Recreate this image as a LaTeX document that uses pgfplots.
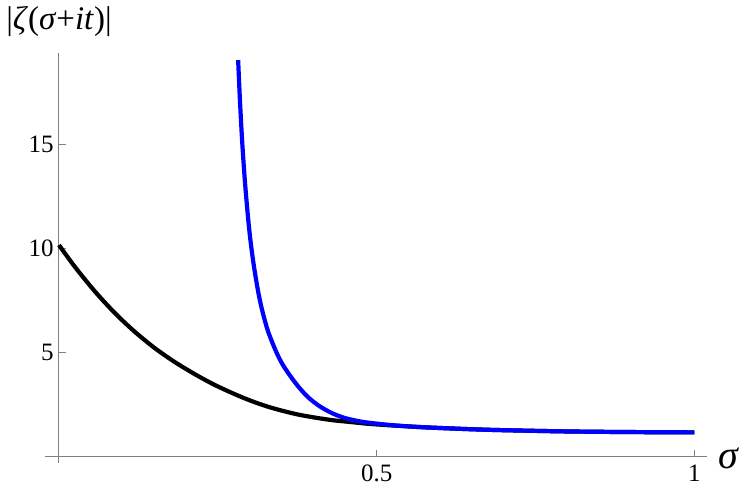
\documentclass[border=0pt]{standalone}
\usepackage{fontspec}
\setmainfont{Liberation Serif}
\usepackage{pgfplots}
\pgfplotsset{compat=1.18}

\definecolor{zblue}{RGB}{0,0,255}
\definecolor{axgray}{RGB}{128,128,128}

\begin{document}
\begin{tikzpicture}
\begin{axis}[
  scale only axis,
  width=331pt, height=205pt,
  axis lines=middle,
  axis line style={axgray, line width=0.5pt, -},
  every inner x axis line/.append style={-},
  every inner y axis line/.append style={-},
  xmin=-0.022, xmax=1.02,
  ymin=-0.31, ymax=19.37,
  xtick={0.5,1}, ytick={5,10,15},
  tick align=inside,
  major tick length=3.5pt,
  tick style={axgray, line width=0.5pt},
  /pgf/number format/assume math mode=true,
  tick label style={font=\fontsize{12.5}{14}\selectfont, text=black},
  xticklabel style={anchor=north, inner sep=0pt, yshift=-4pt},
  yticklabel style={anchor=east, inner sep=0pt, xshift=-2.5pt},
  every axis x label/.style={at={(axis cs:1.02,0)}, anchor=base west,
    inner sep=0pt, xshift=5.5pt, yshift=-5.75pt,
    font=\fontsize{20}{22}\selectfont},
  every axis y label/.style={at={(axis cs:0,19.37)}, anchor=south,
    inner sep=0pt, yshift=8pt, font=\fontsize{16.5}{18}\selectfont},
  xlabel={\itshape σ},
  ylabel={|\textit{ζ}(\textit{σ}+\textit{it})|},
  clip=false,
]

% black curve
\addplot[black, line width=2.1pt, smooth] coordinates {
  (0.000,10.15) (0.0252,9.10) (0.0567,7.92) (0.0882,6.88) (0.1196,5.98)
  (0.151,5.20) (0.1826,4.53) (0.214,3.95) (0.243,3.47) (0.274,3.03)
  (0.300,2.70) (0.327,2.41) (0.355,2.17) (0.379,2.00) (0.405,1.86)
  (0.432,1.74) (0.458,1.66) (0.484,1.58) (0.510,1.52) (0.537,1.47)
  (0.570,1.41) (0.600,1.37) (0.650,1.31) (0.700,1.265) (0.800,1.205)
  (0.900,1.175) (1.000,1.16)
};

% blue curve
\addplot[zblue, line width=2.1pt, smooth] coordinates {
  (0.282,19.03) (0.2850,17.0) (0.2886,15.0) (0.2932,13.0) (0.2991,11.0)
  (0.3051,9.5) (0.3130,8.0) (0.3200,7.0) (0.3292,6.0) (0.342,5.02)
  (0.352,4.42) (0.364,3.87) (0.377,3.35) (0.392,2.85) (0.410,2.42)
  (0.430,2.08) (0.450,1.85) (0.475,1.68) (0.500,1.58) (0.530,1.49)
  (0.560,1.43) (0.600,1.37) (0.650,1.31) (0.700,1.265) (0.800,1.205)
  (0.900,1.175) (1.000,1.16)
};

\end{axis}
% page margins as in the reference
\path ([xshift=-22.5pt,yshift=-14.5pt]current axis.south west)
  rectangle ([xshift=20pt,yshift=26.5pt]current axis.north east);
\end{tikzpicture}
\end{document}
